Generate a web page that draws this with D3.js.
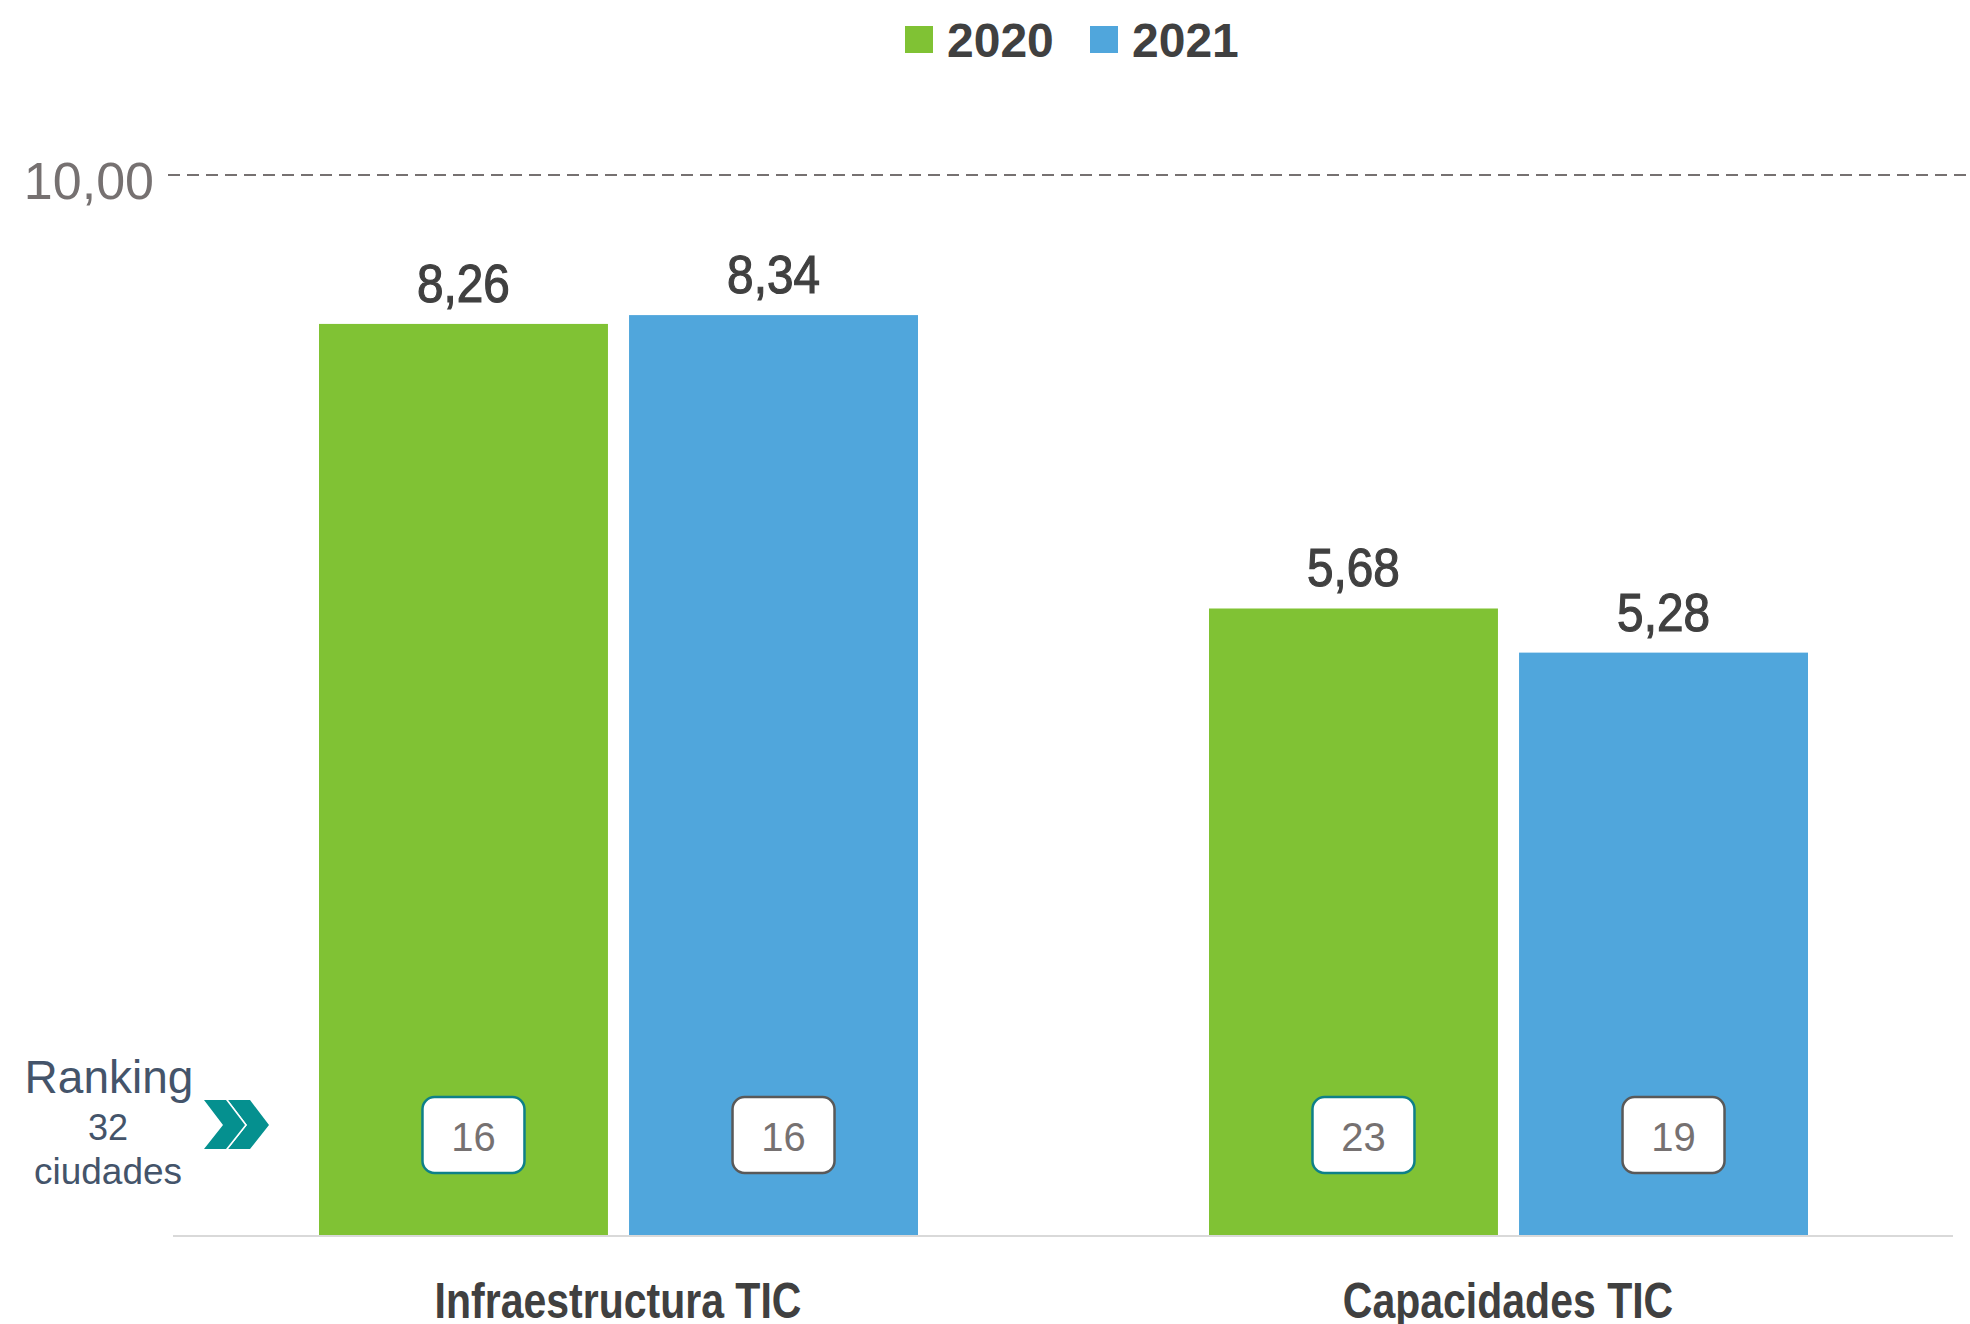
<!DOCTYPE html>
<html lang="es">
<head>
    <meta charset="utf-8">
    <script src="https://d3js.org/d3.v7.min.js"></script>
    <style>
        html, body {
            margin: 0;
            padding: 0;
            background: white;
        }

        svg {
            display: block;
        }

        text {
            font-family: "Liberation Sans", Arial, sans-serif;
        }
    </style>
</head>
<body>
<svg id="chart"></svg>
<script>

    // data
    var categories = ["Infraestructura TIC", "Capacidades TIC"];
    var years = ["2020", "2021"];
    var values2020 = [8.26, 5.68];
    var values2021 = [8.34, 5.28];
    var rank2020 = [16, 23];
    var rank2021 = [16, 19];
    var yMax = 10;

    var colors = {"2020": "#80c234", "2021": "#50a6dc"};
    var badgeStroke = {"2020": "#0e8088", "2021": "#595959"};

    var width = 1970,
        height = 1324;

    var plot = {left: 173, right: 1953, top: 132, bottom: 1235};

    // no narrow font installed, so squeeze the regular one
    var narrow = 0.82;

    var svg = d3.select("#chart")
        .attr("width", width)
        .attr("height", height);

    var rows = categories.map(function (c, i) {
        return {
            category: c,
            bars: [
                {year: "2020", value: values2020[i], rank: rank2020[i]},
                {year: "2021", value: values2021[i], rank: rank2021[i]}
            ]
        };
    });

    var x0 = d3.scaleBand()
        .domain(categories)
        .range([plot.left, plot.right])
        .padding(0);

    var x1 = d3.scaleBand()
        .domain(years)
        .range([146, 745])
        .paddingInner(0.068)
        .paddingOuter(0);

    var y = d3.scaleLinear()
        .domain([0, yMax])
        .range([plot.bottom, plot.top]);

    var fmt = function (v) {
        return d3.format(".2f")(v).replace(".", ",");
    };

    // reference line "10,00" at the top of the plot
    var refY = 175;
    svg.append("line")
        .attr("x1", 168)
        .attr("x2", width)
        .attr("y1", refY)
        .attr("y2", refY)
        .attr("stroke", "#767171")
        .attr("stroke-width", 2)
        .attr("stroke-dasharray", "12,7");

    svg.append("text")
        .attr("x", 154)
        .attr("y", refY + 24)
        .attr("text-anchor", "end")
        .attr("font-size", 52)
        .attr("fill", "#767171")
        .text(fmt(yMax));

    // bars
    var group = svg.append("g")
        .selectAll("g")
        .data(rows)
        .enter()
        .append("g")
        .attr("transform", function (d) {
            return "translate(" + x0(d.category) + ",0)";
        });

    var bar = group.selectAll("g.bar")
        .data(function (d) {
            return d.bars;
        })
        .enter()
        .append("g")
        .attr("class", "bar");

    bar.append("rect")
        .attr("x", function (d) {
            return x1(d.year);
        })
        .attr("y", function (d) {
            return y(d.value);
        })
        .attr("width", x1.bandwidth())
        .attr("height", function (d) {
            return y(0) - y(d.value);
        })
        .attr("fill", function (d) {
            return colors[d.year];
        });

    bar.append("text")
        .attr("transform", function (d) {
            var cx = x1(d.year) + x1.bandwidth() / 2;
            return "translate(" + cx + "," + (y(d.value) - 22) + ") scale(0.9,1)";
        })
        .attr("text-anchor", "middle")
        .attr("font-size", 53)
        .attr("fill", "#404040")
        .attr("stroke", "#404040")
        .attr("stroke-width", 1.2)
        .text(function (d) {
            return fmt(d.value);
        });

    // ranking badges
    var badgeW = 102, badgeH = 76, badgeTop = 1097;

    bar.append("rect")
        .attr("x", function (d) {
            return x1(d.year) + x1.bandwidth() / 2 + 10 - badgeW / 2;
        })
        .attr("y", badgeTop)
        .attr("width", badgeW)
        .attr("height", badgeH)
        .attr("rx", 12)
        .attr("fill", "white")
        .attr("stroke", function (d) {
            return badgeStroke[d.year];
        })
        .attr("stroke-width", 2.5);

    bar.append("text")
        .attr("x", function (d) {
            return x1(d.year) + x1.bandwidth() / 2 + 10;
        })
        .attr("y", badgeTop + 54)
        .attr("text-anchor", "middle")
        .attr("font-size", 40)
        .attr("fill", "#767171")
        .text(function (d) {
            return d.rank;
        });

    // baseline
    svg.append("line")
        .attr("x1", plot.left)
        .attr("x2", plot.right)
        .attr("y1", y(0) + 1)
        .attr("y2", y(0) + 1)
        .attr("stroke", "#d9d9d9")
        .attr("stroke-width", 2);

    // category labels
    svg.append("g")
        .selectAll("text")
        .data(categories)
        .enter()
        .append("text")
        .attr("transform", function (d) {
            return "translate(" + (x0(d) + x0.bandwidth() / 2) + ",1318) scale(" + narrow + ",1)";
        })
        .attr("text-anchor", "middle")
        .attr("font-size", 50)
        .attr("font-weight", "bold")
        .attr("fill", "#404040")
        .text(function (d) {
            return d;
        });

    // legend
    var legendItems = [{year: "2020", x: 905}, {year: "2021", x: 1090}];
    var legend = svg.append("g")
        .selectAll("g")
        .data(legendItems)
        .enter()
        .append("g")
        .attr("transform", function (d) {
            return "translate(" + d.x + ",26)";
        });

    legend.append("rect")
        .attr("width", 28)
        .attr("height", 27)
        .attr("fill", function (d) {
            return colors[d.year];
        });

    legend.append("text")
        .attr("x", 42)
        .attr("y", 31)
        .attr("font-size", 48)
        .attr("font-weight", "bold")
        .attr("fill", "#404040")
        .text(function (d) {
            return d.year;
        });

    // "Ranking 32 ciudades" note with chevrons
    var note = svg.append("g").attr("fill", "#44546a");
    note.append("text")
        .attr("x", 109)
        .attr("y", 1093)
        .attr("text-anchor", "middle")
        .attr("font-size", 46)
        .text("Ranking");
    note.append("text")
        .attr("x", 108)
        .attr("y", 1140)
        .attr("text-anchor", "middle")
        .attr("font-size", 36)
        .text("32");
    note.append("text")
        .attr("x", 108)
        .attr("y", 1184)
        .attr("text-anchor", "middle")
        .attr("font-size", 37)
        .text("ciudades");

    var chevron = "M0,0 L22,0 L41,25 L22,49 L0,49 L19,25 Z";
    svg.append("g")
        .selectAll("path")
        .data([228, 204])
        .enter()
        .append("path")
        .attr("d", chevron)
        .attr("transform", function (d) {
            return "translate(" + d + ",1100)";
        })
        .attr("fill", "#05908f")
        .attr("stroke", "white")
        .attr("stroke-width", 3)
        .attr("paint-order", "stroke");

</script>
</body>
</html>
